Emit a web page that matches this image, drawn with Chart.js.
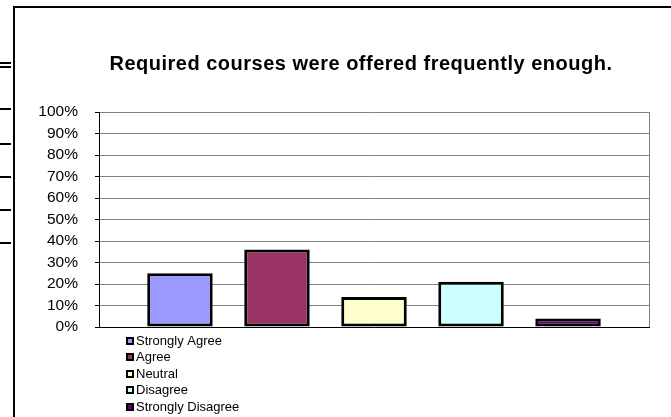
<!DOCTYPE html>
<html>
<head>
<meta charset="utf-8">
<script src="https://cdn.jsdelivr.net/npm/chart.js@4.4.1/dist/chart.umd.min.js"></script>
<style>
    html, body { margin: 0; padding: 0; background: #fff; }
    #wrap { width: 671px; height: 417px; }
</style>
</head>
<body>
<div id="wrap"><canvas id="chart" width="671" height="417"></canvas></div>
<script>
// ---------------- data ----------------
const chartTitle = 'Required courses were offered frequently enough.';
const categories = [''];
const seriesNames = ['Strongly Agree', 'Agree', 'Neutral', 'Disagree', 'Strongly Disagree'];
const seriesValues = [25, 36, 14, 21, 4];
const seriesColors = ['#9999FF', '#993366', '#FFFFCC', '#CCFFFF', '#660066'];
const yMin = 0;
const yMax = 100;
const yStep = 10;

const FONT = "Arial, 'Liberation Sans', sans-serif";

// frame around the sheet, title and the vertical legend
const sheetPlugin = {
    id: 'sheet',
    beforeDraw(chart) {
        const ctx = chart.ctx;
        ctx.save();
        ctx.fillStyle = '#fff';
        ctx.fillRect(0, 0, chart.width, chart.height);
        ctx.restore();
    },
    afterDraw(chart) {
        const ctx = chart.ctx;
        const area = chart.chartArea;
        ctx.save();

        // outer frame
        ctx.fillStyle = '#000';
        ctx.fillRect(13, 6, chart.width - 13, 2);
        ctx.fillRect(13, 6, 2, chart.height - 6);
        // marks of the sheet behind
        [62, 66, 108, 143, 176, 209, 242].forEach(y => ctx.fillRect(0, y, 11, 2));

        // plot right border
        ctx.strokeStyle = '#808080';
        ctx.lineWidth = 1;
        ctx.beginPath();
        ctx.moveTo(Math.round(area.right) + 0.5, area.top);
        ctx.lineTo(Math.round(area.right) + 0.5, area.bottom);
        ctx.stroke();

        // title
        ctx.fillStyle = '#000';
        ctx.font = 'bold 20px ' + FONT;
        ctx.textBaseline = 'alphabetic';
        ctx.textAlign = 'center';
        if ('letterSpacing' in ctx) ctx.letterSpacing = '0.5px';
        ctx.fillText(chartTitle, 361, 70);
        if ('letterSpacing' in ctx) ctx.letterSpacing = '0px';

        // legend
        ctx.font = '13px ' + FONT;
        ctx.textAlign = 'left';
        ctx.textBaseline = 'middle';
        chart.data.datasets.forEach((ds, i) => {
            const y = Math.round(341 + i * 16.4);
            ctx.fillStyle = '#000';
            ctx.fillRect(126, y - 4, 8, 8);
            ctx.fillStyle = ds.backgroundColor;
            ctx.fillRect(128, y - 2, 4, 4);
            ctx.fillStyle = '#000';
            ctx.fillText(ds.label, 136, y + 0.5);
        });
        ctx.restore();
    }
};

const datasets = seriesNames.map((name, i) => ({
    label: name,
    data: [seriesValues[i]],
    backgroundColor: seriesColors[i],
    borderColor: '#000',
    borderWidth: 3,
    borderSkipped: false,
    categoryPercentage: 0.882,
    barPercentage: 0.675
}));

new Chart(document.getElementById('chart'), {
    type: 'bar',
    data: { labels: categories, datasets: datasets },
    options: {
        responsive: false,
        devicePixelRatio: 1,
        animation: false,
        layout: { padding: { left: 0, top: 112, right: 22, bottom: 90 } },
        plugins: {
            legend: { display: false },
            title: { display: false },
            tooltip: { enabled: false }
        },
        scales: {
            x: {
                ticks: { display: false },
                grid: { display: false },
                border: { color: '#000', width: 1 },
                afterFit: s => { s.height = 0; }
            },
            y: {
                min: yMin,
                max: yMax,
                ticks: {
                    stepSize: yStep,
                    autoSkip: false,
                    padding: 17,
                    color: '#000',
                    font: { family: FONT, size: 15.5 },
                    callback: v => v + '%'
                },
                grid: { color: '#808080', tickLength: 4, tickColor: '#000' },
                border: { color: '#000', width: 1 },
                afterFit: s => { s.width = 99; }
            }
        }
    },
    plugins: [sheetPlugin]
});
</script>
</body>
</html>
